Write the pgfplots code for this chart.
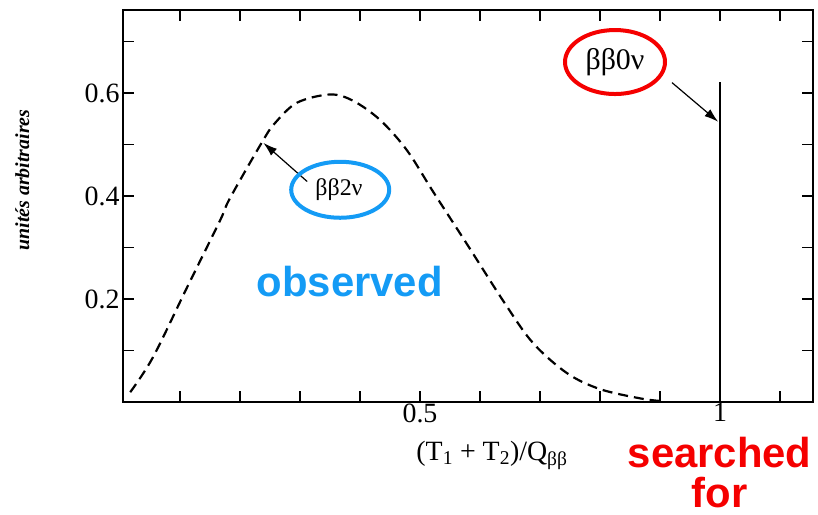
\documentclass[border=0pt]{standalone}
\usepackage{pgfplots}
\pgfplotsset{compat=1.18}
\usepackage{fontspec}
\setmainfont{Liberation Serif}
\newfontfamily\arialfont{Liberation Sans}
\usetikzlibrary{arrows.meta}
\definecolor{obsblue}{RGB}{20,155,245}
\definecolor{srred}{RGB}{245,0,0}
\newcommand{\tl}[1]{\textrm{\fontsize{28}{28}\selectfont #1}}
\begin{document}
\begin{tikzpicture}
\useasboundingbox (0,0) rectangle (818bp,515bp);
\begin{axis}[at={(123bp,113bp)}, anchor=south west, scale only axis,
  width=690bp, height=392bp,
  xmin=0.005, xmax=1.155, ymin=0, ymax=0.761,
  axis line style={line width=2bp},
  xtick={0.5,1}, xticklabels={\tl{0.5},\tl{1}},
  minor xtick={0.1,0.2,0.3,0.4,0.6,0.7,0.8,0.9,1.1},
  ytick={0.2,0.4,0.6}, yticklabels={\tl{0.2},\tl{0.4},\tl{0.6}},
  minor ytick={0.1,0.3,0.5,0.7},
  tick align=inside, major tick length=11bp, minor tick length=11bp,
  every tick/.style={line width=1.5bp, black},
  xticklabel style={yshift=2bp},
  clip=false,
]
\addplot[black, line width=2.2bp, dash pattern=on 10bp off 6bp, smooth, tension=0.55] coordinates {
(0.017,0.019) (0.055,0.087) (0.112,0.223) (0.167,0.353) (0.183,0.395) (0.237,0.505)
(0.258,0.541) (0.295,0.581) (0.350,0.597) (0.388,0.585)
(0.433,0.548) (0.478,0.489) (0.522,0.408) (0.578,0.307)
(0.640,0.194) (0.688,0.115) (0.745,0.056) (0.800,0.025) (0.867,0.007) (0.900,0.002)
};
\addplot[black, line width=2.5bp] coordinates {(1,0) (1,0.621)};
% beta beta 0 nu
\draw[-{Latex[length=14bp,width=9bp]}, line width=1.2bp] (axis cs:0.92,0.62) -- (axis cs:0.997,0.544);
\draw[srred, line width=4bp] (axis cs:0.825,0.660) ellipse (50bp and 32bp);
\node[font=\fontsize{30}{30}\selectfont] at (axis cs:0.825,0.660) {ββ0ν};
% beta beta 2 nu
\draw[-{Latex[length=14bp,width=9bp]}, line width=1.2bp] (axis cs:0.312,0.428) -- (axis cs:0.239,0.503);
\draw[obsblue, line width=4bp] (axis cs:0.367,0.412) ellipse (49bp and 28bp);
\node[fill=white, inner sep=1bp, font=\fontsize{24}{24}\selectfont] at (axis cs:0.365,0.412) {ββ2ν};
\node[anchor=base, obsblue, font=\arialfont\bfseries\fontsize{42}{42}\selectfont] at (axis cs:0.383,0.204) {observed};
\node[anchor=base, inner sep=0pt, srred, font=\arialfont\bfseries\fontsize{42}{42}\selectfont] at (axis cs:0.9995,-0.128) {searched};
\node[anchor=base, inner sep=0pt, srred, font=\arialfont\bfseries\fontsize{42}{42}\selectfont] at (axis cs:0.9995,-0.204) {for};
\node[font=\fontsize{28}{28}\selectfont] at (axis cs:0.62,-0.103) {(T\textsubscript{1} + T\textsubscript{2})/Q\textsubscript{ββ}};
\node[rotate=90, font=\fontsize{20}{20}\selectfont\bfseries\itshape] at (axis cs:-0.163,0.431) {unités arbitraires};
\end{axis}
\end{tikzpicture}
\end{document}
